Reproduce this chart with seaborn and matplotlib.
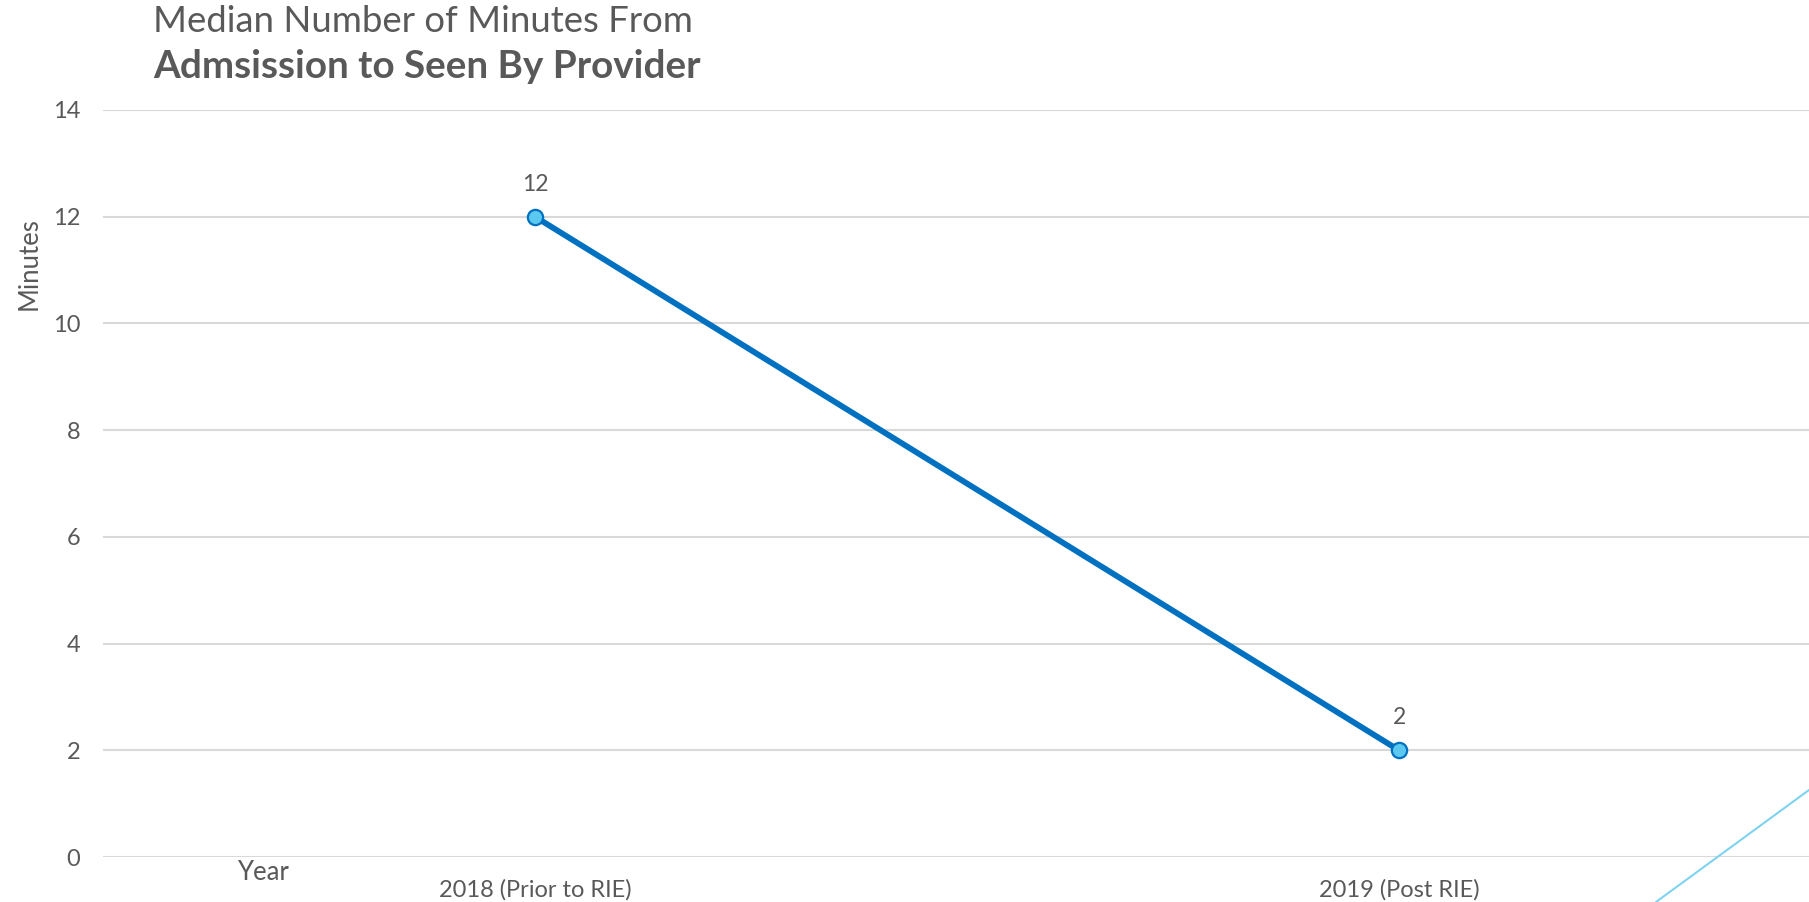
import matplotlib
matplotlib.use("Agg")
import matplotlib.pyplot as plt
from matplotlib.lines import Line2D
import seaborn as sns
import pandas as pd

# Chart data
years = ["2018 (Prior to RIE)", "2019 (Post RIE)"]
minutes = [12, 2]
y_ticks = [0, 2, 4, 6, 8, 10, 12, 14]

sns.set_theme(style="white")
plt.rcParams["font.family"] = ["Lato", "DejaVu Sans"]

TEXT = "#595959"
LINE = "#0070C0"
MARKER = "#5BC8F0"
GRID = "#D9D9D9"

W, H = 1809, 902
fig = plt.figure(figsize=(W / 100, H / 100), dpi=100)
# axes run slightly past the right edge of the canvas
ax = fig.add_axes([103 / W, 45 / H, 1728 / W, 747 / H])

df = pd.DataFrame({"Year": years, "Minutes": minutes})
df["pos"] = range(len(years))

sns.lineplot(data=df, x="pos", y="Minutes", ax=ax, color=LINE, linewidth=4.2,
             marker="o", markersize=11, markerfacecolor=MARKER,
             markeredgecolor=LINE, markeredgewidth=1.6, zorder=3)

for x, v in zip(df["pos"], df["Minutes"]):
    ax.annotate(f"{v}", (x, v), xytext=(0, 23.5), textcoords="offset points",
                ha="center", va="center", fontsize=16.5, color=TEXT)

ax.set_xlim(-0.5, 1.5)
ax.set_ylim(0, 14)
ax.set_yticks(y_ticks)
ax.set_xticks(df["pos"])
ax.set_xticklabels(years)
ax.yaxis.grid(True, color=GRID, linewidth=1.5)
ax.xaxis.grid(False)
for s in ax.spines.values():
    s.set_visible(False)
ax.tick_params(axis="y", length=0, pad=16.5, labelsize=17, labelcolor=TEXT)
ax.tick_params(axis="x", length=0, pad=16, labelsize=17, labelcolor=TEXT)
ax.set_xlabel("")
ax.set_ylabel("")

# axis titles
fig.text(263 / W, 1 - 873 / H, "Year", ha="center", va="center",
         fontsize=18.5, color=TEXT)
fig.text(29 / W, 1 - 264 / H, "Minutes", ha="center", va="center",
         rotation=90, fontsize=18.5, color=TEXT)

# chart title
fig.text(153 / W, 1 - 22 / H, "Median Number of Minutes From", ha="left",
         va="center", fontsize=26.3, color=TEXT)
fig.text(153 / W, 1 - 66 / H, "Admsission to Seen By Provider", ha="left",
         va="center", fontsize=27.8, fontweight="bold", color=TEXT)

# accent stroke in the lower-right corner
fig.add_artist(Line2D([1656 / W, 1.0], [0.0, 1 - 790 / H],
                      transform=fig.transFigure, color="#7FD3F0", linewidth=1.5))

fig.savefig("out.png", dpi=100)
